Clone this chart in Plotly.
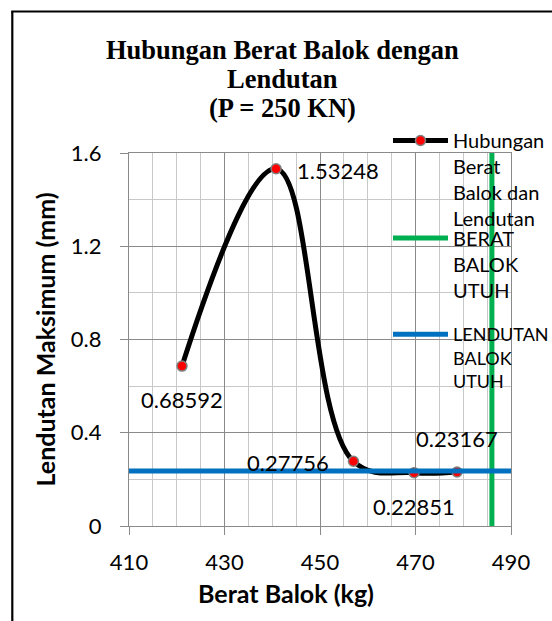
import plotly.graph_objects as go

# ---- data ----
berat = [421.1, 440.8, 457.0, 469.7, 478.7]
lendutan = [0.68592, 1.53248, 0.27756, 0.22851, 0.23167]
berat_utuh = 486.0
lendutan_utuh = 0.236
x_range = [410, 490]
y_range = [0, 1.6]

title_lines = ["Hubungan Berat Balok dengan", "Lendutan", "(P = 250 KN)"]
x_title = "Berat Balok (kg)"
y_title = "Lendutan Maksimum (mm)"
series_names = ["Hubungan<br>Berat<br>Balok dan<br>Lendutan",
                "BERAT<br>BALOK<br>UTUH",
                "LENDUTAN<br>BALOK<br>UTUH"]

SANS = "Lato"
SERIF = "Liberation Serif"
MAJ = "#8a8a8a"
MINC = "#c8c8c8"

L, R, T, B = 129, 41, 153, 95
W, H = 552, 621
pw, ph = W - L - R, H - T - B


def px2x(px):
    return (px - L) / pw


def px2y(py):
    return (H - B - py) / ph


fig = go.Figure()

fig.add_trace(go.Scatter(
    x=berat, y=lendutan, mode="lines+markers", name=series_names[0],
    line=dict(color="black", width=5, shape="spline", smoothing=1.1),
    marker=dict(color="#ff0000", size=10, line=dict(color="#808080", width=1.5)),
    legend="legend",
))
fig.add_trace(go.Scatter(
    x=[berat_utuh, berat_utuh], y=y_range, mode="lines", name=series_names[1],
    line=dict(color="#00b050", width=5), legend="legend2",
))
fig.add_trace(go.Scatter(
    x=x_range, y=[lendutan_utuh, lendutan_utuh], mode="lines", name=series_names[2],
    line=dict(color="#0070c0", width=5), legend="legend3",
))

# data labels
label_offsets = [
    dict(xanchor="center", xshift=0, yshift=-33),
    dict(xanchor="left", xshift=19, yshift=-2),
    dict(xanchor="right", xshift=-22, yshift=-1),
    dict(xanchor="center", xshift=0, yshift=-34),
    dict(xanchor="center", xshift=0, yshift=33),
]
annotations = []
for xv, yv, off in zip(berat, lendutan, label_offsets):
    annotations.append(dict(
        x=xv, y=yv, xref="x", yref="y", text=str(yv), showarrow=False,
        font=dict(family=SANS, size=22, color="black"), yanchor="middle", **off))

# title lines
for txt, py in zip(title_lines, [50, 79, 108.3]):
    annotations.append(dict(
        x=px2x(282.6), y=px2y(py), xref="paper", yref="paper", text="<b>%s</b>" % txt,
        showarrow=False, xanchor="center", yanchor="middle",
        font=dict(family=SERIF, size=26.5, color="black")))

# x-axis title (centred on the chart area, as in the reference)
annotations.append(dict(
    x=px2x(285.7), y=px2y(593), xref="paper", yref="paper", text="<b>%s</b>" % x_title,
    showarrow=False, xanchor="center", yanchor="middle",
    font=dict(family=SANS, size=25, color="black")))

legend_common = dict(
    bgcolor="rgba(0,0,0,0)", borderwidth=0, xanchor="left", yanchor="top",
    itemwidth=55, valign="top", tracegroupgap=0, itemclick=False,
)

fig.update_layout(
    width=W, height=H,
    margin=dict(l=L, r=R, t=T, b=B, pad=0, autoexpand=False),
    paper_bgcolor="white", plot_bgcolor="white",
    showlegend=True,
    legend=dict(x=px2x(388), y=px2y(121), font=dict(family=SANS, size=20, color="black"),
                **legend_common),
    legend2=dict(x=px2x(388), y=px2y(218.5), font=dict(family=SANS, size=20, color="black"),
                 **legend_common),
    legend3=dict(x=px2x(388), y=px2y(316), font=dict(family=SANS, size=18, color="black"),
                 **legend_common),
    xaxis=dict(
        range=x_range, dtick=20, tick0=410, showgrid=True, gridcolor=MAJ, gridwidth=1.2,
        minor=dict(dtick=5, showgrid=True, gridcolor=MINC, gridwidth=1.2),
        ticks="outside", ticklen=8, tickcolor=MAJ, showline=True, linecolor=MAJ,
        linewidth=1.2, mirror=True, zeroline=False, ticklabelstandoff=8,
        tickfont=dict(family=SANS, size=22, color="black"),
    ),
    yaxis=dict(
        range=y_range, dtick=0.4, tick0=0, showgrid=True, gridcolor=MAJ, gridwidth=1.2,
        minor=dict(dtick=0.2, showgrid=True, gridcolor=MINC, gridwidth=1.2),
        ticks="outside", ticklen=8, tickcolor=MAJ, showline=True, linecolor=MAJ,
        linewidth=1.2, mirror=True, zeroline=False, ticklabelstandoff=14,
        tickfont=dict(family=SANS, size=22, color="black"),
        title=dict(text="<b>%s</b>" % y_title, font=dict(family=SANS, size=25, color="black"),
                   standoff=8),
    ),
    annotations=annotations,
    shapes=[
        dict(type="line", xref="paper", yref="paper", x0=px2x(12.3), x1=px2x(12.3),
             y0=px2y(W + 100), y1=px2y(11.5), line=dict(color="black", width=2.2)),
        dict(type="line", xref="paper", yref="paper", x0=px2x(11.2), x1=px2x(W + 10),
             y0=px2y(11.5), y1=px2y(11.5), line=dict(color="black", width=2.2)),
    ],
)

fig.write_html(
    "out.html",
    config={"displayModeBar": False},
    post_script="document.body.style.margin='0';document.body.style.overflow='hidden';",
)
